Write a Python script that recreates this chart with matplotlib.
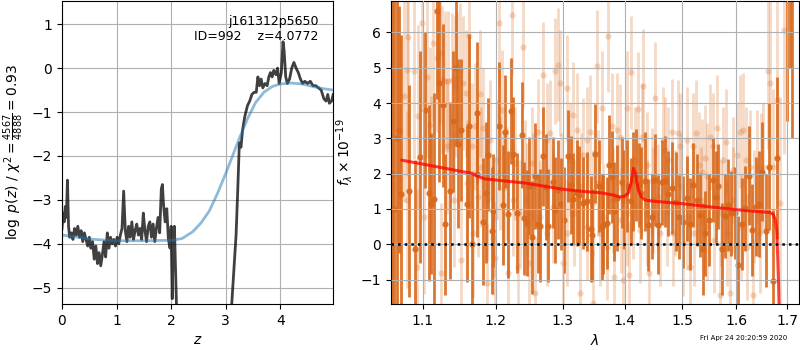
import numpy as np
import matplotlib
matplotlib.use('Agg')
import matplotlib.pyplot as plt

# left panel: redshift pdf
z_pdf = [0.00, 0.02, 0.04, 0.06, 0.08, 0.10, 0.12, 0.14, 0.17, 0.20, 0.23, 0.26, 0.29, 0.32,
         0.35, 0.38, 0.41, 0.44, 0.47, 0.50, 0.53, 0.56, 0.59, 0.62, 0.65, 0.68, 0.71, 0.74,
         0.77, 0.80, 0.83, 0.86, 0.89, 0.92, 0.95, 0.98, 1.01, 1.04, 1.07, 1.10, 1.13, 1.16,
         1.19, 1.22, 1.25, 1.28, 1.31, 1.34, 1.37, 1.40, 1.43, 1.46, 1.49, 1.52, 1.55, 1.58,
         1.61, 1.64, 1.67, 1.70, 1.73, 1.76, 1.79, 1.82, 1.84, 1.86, 1.89, 1.92, 1.95, 1.98,
         2.00, 2.02, 2.04, 2.06, 2.08, 2.10, 2.14, 3.05, 3.11, 3.15, 3.19, 3.22, 3.25, 3.28,
         3.31, 3.35, 3.40, 3.44, 3.48, 3.52, 3.56, 3.59, 3.62, 3.65, 3.68, 3.72, 3.76, 3.79,
         3.82, 3.85, 3.88, 3.92, 3.95, 3.98, 4.02, 4.05, 4.07, 4.10, 4.13, 4.17, 4.21, 4.25,
         4.29, 4.33, 4.37, 4.41, 4.45, 4.50, 4.55, 4.60, 4.65, 4.70, 4.75, 4.80, 4.84, 4.87,
         4.90, 4.94, 4.97]
logp = [-3.65, -3.30, -3.50, -3.15, -3.40, -2.55, -3.60, -3.85, -3.75, -3.90, -3.65, -3.80, -3.60, -3.85,
        -3.70, -3.95, -3.75, -3.90, -4.05, -3.85, -4.10, -3.95, -4.35, -4.05, -4.45, -4.20, -4.50, -4.25,
        -3.95, -4.30, -3.75, -4.10, -3.85, -4.00, -3.90, -4.05, -3.85, -4.00, -3.80, -3.65, -2.80, -3.70,
        -3.95, -3.60, -3.85, -3.50, -3.90, -3.70, -3.55, -3.80, -3.65, -3.90, -3.30, -3.70, -3.95, -3.60,
        -3.50, -3.85, -3.55, -3.95, -3.65, -3.40, -3.75, -2.75, -2.65, -3.10, -3.50, -3.20, -3.90, -4.10,
        -3.60, -5.25, -3.80, -3.60, -4.60, -5.50, -7.00, -7.50, -5.38, -4.60, -3.80, -2.80, -1.70, -1.80,
        -1.40, -1.10, -0.85, -0.75, -0.60, -0.55, -0.55, -0.20, -0.40, -0.25, -0.45, -0.35, -0.40, -0.20,
        -0.10, -0.20, -0.05, -0.15, 0.00, -0.35, -0.10, 0.60, 0.40, -0.20, -0.35, -0.25, 0.00, 0.13,
        0.00, -0.10, -0.25, -0.35, -0.30, -0.35, -0.30, -0.40, -0.40, -0.45, -0.50, -0.70, -0.75, -0.60,
        -0.80, -0.75, -0.60]

z_prior = [0.0, 0.3, 0.6, 1.0, 1.5, 2.0, 2.2, 2.4, 2.55, 2.7, 2.85, 3.0, 3.1, 3.25, 3.4, 3.55,
           3.7, 3.85, 4.0, 4.2, 4.4, 4.6, 4.8, 4.97]
logp_prior = [-3.80, -3.85, -3.90, -3.93, -3.93, -3.92, -3.88, -3.72, -3.52, -3.25, -2.85, -2.40,
              -2.08, -1.60, -1.15, -0.78, -0.55, -0.42, -0.36, -0.34, -0.36, -0.42, -0.47, -0.50]

# right panel: spectrum (binned, dark)
wave_dark = [1.0600, 1.0630, 1.0660, 1.0685, 1.0719, 1.0826, 1.0904, 1.0965, 1.1031, 1.1075,
             1.1106, 1.1154, 1.1185, 1.1221, 1.1262, 1.1302, 1.1365, 1.1410, 1.1447, 1.1478,
             1.1515, 1.1598, 1.1631, 1.1672, 1.1733, 1.1742, 1.1826, 1.1859, 1.1897, 1.1944,
             1.1959, 1.2054, 1.2102, 1.2136, 1.2184, 1.2218, 1.2258, 1.2306, 1.2380, 1.2420,
             1.2464, 1.2494, 1.2539, 1.2579, 1.2619, 1.2654, 1.2705, 1.2740, 1.2780, 1.2847,
             1.2883, 1.2934, 1.2970, 1.3022, 1.3089, 1.3126, 1.3168, 1.3220, 1.3257, 1.3326,
             1.3379, 1.3444, 1.3470, 1.3519, 1.3572, 1.3621, 1.3648, 1.3702, 1.3735, 1.3784,
             1.3823, 1.3867, 1.3950, 1.3989, 1.4034, 1.4101, 1.4146, 1.4191, 1.4236, 1.4270,
             1.4344, 1.4401, 1.4459, 1.4517, 1.4575, 1.4633, 1.4692, 1.4750, 1.4821, 1.4886,
             1.4945, 1.5017, 1.5077, 1.5137, 1.5198, 1.5270, 1.5319, 1.5368, 1.5411, 1.5491,
             1.5565, 1.5615, 1.5659, 1.5721, 1.5784, 1.5846, 1.5891, 1.5974, 1.6037, 1.6101,
             1.6166, 1.6249, 1.6295, 1.6379, 1.6445, 1.6490, 1.6569, 1.6642, 1.6709, 1.6789,
             1.6990, 1.7050, 1.7100]
flux_dark = [2.00, 1.00, 3.00, 3.24, 1.42, 1.50, -0.12, 2.48, 3.80, 1.45,
             1.15, 1.28, 6.60, 4.57, 3.93, 0.57, 1.52, 3.48, 4.99, 2.85,
             3.24, 1.14, 3.35, 0.00, 3.73, 2.00, 0.64, 1.46, 2.53, 0.39,
             0.95, 3.35, 1.11, 3.19, 0.85, 3.76, 2.56, 0.88, 3.10, 0.74,
             0.60, 1.65, 0.20, 1.92, 0.58, 0.53, 2.49, 1.63, 0.53, 1.75,
             0.97, 1.54, 1.14, 0.69, 2.49, 1.68, 1.29, 1.45, 1.39, 1.18,
             1.22, 0.43, 0.26, 2.56, 1.64, 0.50, 0.55, 0.61, 2.25, 1.90,
             0.93, 1.30, 1.75, 1.26, 1.64, 1.23, 1.78, 1.97, 1.68, 1.45,
             1.78, 0.55, 0.78, 1.82, 0.55, 1.75, 1.78, 1.43, 1.60, 1.21,
             0.77, 0.64, 1.30, 0.58, 1.68, 1.26, 0.83, -0.14, 0.31, 0.69,
             1.82, 1.35, 1.64, -0.14, 0.80, 1.12, 0.88, 0.88, -0.59, 0.58,
             1.02, 1.94, 0.41, 1.07, 1.14, 2.06, 0.39, 2.20, -1.04, 2.44,
             7.50, 8.50, 9.50]
err_dark = [9.0, 9.0, 8.0, 3.5, 4.5, 3.0, 2.5, 3.0, 2.2, 2.5,
            2.0, 3.0, 2.5, 2.8, 2.3, 2.0, 2.5, 2.0, 2.2, 2.4,
            2.0, 2.2, 2.6, 2.0, 2.0, 1.8, 1.8, 2.0, 1.6, 1.8,
            1.6, 1.8, 1.7, 1.6, 1.8, 1.5, 1.6, 1.7, 1.5, 1.6,
            1.5, 1.4, 1.6, 1.5, 1.4, 1.6, 1.4, 1.5, 1.6, 1.3,
            1.5, 1.4, 1.3, 1.5, 1.3, 1.4, 1.3, 1.5, 1.4, 1.3,
            1.4, 1.5, 1.3, 1.4, 1.3, 1.5, 1.4, 1.3, 1.4, 1.3,
            1.4, 1.5, 1.3, 1.4, 1.3, 1.2, 1.4, 1.3, 1.2, 1.3,
            1.4, 1.3, 1.2, 1.3, 1.4, 1.2, 1.3, 1.2, 1.3, 1.4,
            1.2, 1.3, 1.2, 1.3, 1.2, 1.3, 1.2, 1.3, 1.2, 1.3,
            1.2, 1.3, 1.2, 1.3, 1.2, 1.3, 1.2, 1.3, 1.4, 1.3,
            1.2, 1.4, 1.3, 1.4, 1.5, 1.4, 1.6, 1.8, 2.0, 2.3,
            4.0, 3.5, 6.5]

# right panel: spectrum (unbinned, light)
wave_light = [1.0749, 1.0792, 1.0800, 1.0813, 1.0887, 1.0921, 1.0943, 1.0987, 1.1009, 1.1053,
              1.1097, 1.1110, 1.1141, 1.1194, 1.1230, 1.1240, 1.1252, 1.1297, 1.1320, 1.1342,
              1.1388, 1.1420, 1.1433, 1.1456, 1.1501, 1.1510, 1.1547, 1.1584, 1.1593, 1.1631,
              1.1663, 1.1686, 1.1710, 1.1756, 1.1779, 1.1790, 1.1826, 1.1873, 1.1880, 1.1921,
              1.1968, 1.1975, 1.1992, 1.2016, 1.2054, 1.2064, 1.2088, 1.2122, 1.2160, 1.2184,
              1.2233, 1.2258, 1.2282, 1.2331, 1.2356, 1.2395, 1.2430, 1.2454, 1.2494, 1.2529,
              1.2554, 1.2579, 1.2629, 1.2654, 1.2705, 1.2755, 1.2765, 1.2806, 1.2857, 1.2883,
              1.2934, 1.2960, 1.2975, 1.3012, 1.3063, 1.3075, 1.3116, 1.3168, 1.3180, 1.3220,
              1.3273, 1.3285, 1.3326, 1.3379, 1.3390, 1.3433, 1.3476, 1.3487, 1.3540, 1.3567,
              1.3594, 1.3621, 1.3648, 1.3702, 1.3730, 1.3784, 1.3812, 1.3823, 1.3867, 1.3922,
              1.3935, 1.3978, 1.4034, 1.4045, 1.4079, 1.4107, 1.4146, 1.4174, 1.4230, 1.4259,
              1.4287, 1.4304, 1.4373, 1.4385, 1.4419, 1.4459, 1.4488, 1.4517, 1.4575, 1.4604,
              1.4650, 1.4692, 1.4721, 1.4750, 1.4810, 1.4839, 1.4868, 1.4928, 1.4957, 1.4970,
              1.5017, 1.5077, 1.5090, 1.5137, 1.5198, 1.5210, 1.5246, 1.5307, 1.5330, 1.5350,
              1.5411, 1.5442, 1.5455, 1.5503, 1.5565, 1.5578, 1.5627, 1.5690, 1.5700, 1.5752,
              1.5802, 1.5815, 1.5878, 1.5929, 1.5942, 1.6005, 1.6069, 1.6080, 1.6133, 1.6185,
              1.6198, 1.6262, 1.6327, 1.6340, 1.6392, 1.6458, 1.6471, 1.6523, 1.6622, 1.6655,
              1.6722, 1.6789, 1.6856, 1.6936]
flux_light = [4.19, 4.94, 1.26, 5.87, 4.92, -0.63, 3.62, 6.27, 0.78, 4.75,
              3.38, 2.20, 5.70, 5.27, 5.42, -0.82, 4.66, 4.61, 2.77, 4.61,
              4.66, 1.26, 4.47, 4.71, 4.94, -0.44, 4.57, 4.28, 1.73, 5.89,
              2.77, 0.31, 3.34, 1.35, 4.26, 2.20, 3.29, 1.26, -1.10, 2.96,
              0.17, 0.78, -0.40, 2.39, 6.27, 2.01, 3.81, 1.59, 1.73, -0.82,
              6.50, 1.26, 2.30, -0.63, 0.88, 5.58, 2.01, 1.26, -0.54, 2.30,
              1.64, -1.39, 3.19, 0.78, 4.80, 2.96, 0.31, 3.15, 1.07, 4.90,
              5.08, 4.57, 1.64, -0.52, 4.42, 0.31, 2.39, 3.67, 0.88, 3.24,
              -1.39, 1.64, 2.53, 2.96, 0.50, 3.19, -1.67, 1.16, 5.04, 1.73,
              0.31, 3.86, 0.78, -0.07, 5.91, 3.34, 1.26, -0.92, 3.24, 3.05,
              0.69, -1.01, 3.86, 0.88, -0.87, 4.87, 1.07, 2.39, 3.83, 0.41,
              3.05, 4.49, 2.25, 0.88, -0.82, 1.78, 1.26, 4.14, 1.35, 0.31,
              2.96, 2.67, 0.88, 2.39, 3.17, 0.31, 1.16, 3.15, 2.77, 1.64,
              0.03, 2.96, 0.78, -0.63, 2.77, 0.31, 3.15, 2.25, 1.26, 2.06,
              2.44, 1.92, 0.50, 3.05, 2.77, 0.12, 3.29, -1.44, 0.88, 2.39,
              2.91, 0.31, -1.39, 2.11, 1.26, 2.53, 3.19, 0.50, 3.24, 2.39,
              -0.07, 2.20, -1.44, 1.07, 2.20, 0.31, 2.01, 2.20, 4.90, 4.57,
              2.20, 4.09, 1.16, 6.06]
err_light = [3.0, 3.0, 2.5, 2.8, 2.5, 2.2, 2.6, 2.4, 2.2, 2.3,
             2.2, 2.0, 2.2, 2.1, 2.0, 2.0, 2.1, 2.0, 1.9, 2.0,
             1.9, 1.9, 2.0, 1.9, 1.9, 1.8, 1.9, 1.8, 1.8, 1.9,
             1.8, 1.8, 1.8, 1.7, 1.8, 1.7, 1.7, 1.7, 1.7, 1.7,
             1.6, 1.7, 1.6, 1.7, 1.8, 1.6, 1.7, 1.6, 1.6, 1.6,
             1.7, 1.6, 1.6, 1.6, 1.5, 1.7, 1.5, 1.6, 1.5, 1.6,
             1.5, 1.6, 1.5, 1.6, 1.5, 1.6, 1.5, 1.5, 1.6, 1.5,
             1.6, 1.5, 1.5, 1.6, 1.5, 1.5, 1.6, 1.5, 1.5, 1.6,
             1.5, 1.5, 1.6, 1.5, 1.5, 1.6, 1.5, 1.5, 1.6, 1.5,
             1.5, 1.6, 1.5, 1.5, 1.6, 1.5, 1.5, 1.5, 1.6, 1.5,
             1.5, 1.5, 1.6, 1.5, 1.5, 1.6, 1.5, 1.5, 1.6, 1.5,
             1.5, 1.6, 1.5, 1.5, 1.5, 1.5, 1.5, 1.6, 1.5, 1.5,
             1.5, 1.5, 1.5, 1.5, 1.5, 1.5, 1.5, 1.5, 1.5, 1.5,
             1.5, 1.5, 1.5, 1.5, 1.5, 1.5, 1.5, 1.5, 1.5, 1.5,
             1.5, 1.5, 1.5, 1.5, 1.5, 1.5, 1.5, 1.5, 1.5, 1.5,
             1.5, 1.5, 1.5, 1.5, 1.5, 1.5, 1.6, 1.5, 1.6, 1.5,
             1.5, 1.6, 1.6, 1.6, 1.6, 1.7, 1.7, 1.8, 2.2, 2.5,
             2.2, 2.8, 3.0, 3.5]

# best-fit model
wave_model = [1.073, 1.100, 1.130, 1.155, 1.165, 1.175, 1.185, 1.210, 1.245, 1.270, 1.300,
              1.330, 1.360, 1.380, 1.392, 1.400, 1.406, 1.411, 1.415, 1.419, 1.423, 1.428,
              1.435, 1.450, 1.500, 1.550, 1.600, 1.640, 1.665, 1.672, 1.676, 1.679, 1.681,
              1.683, 1.685]
flux_model = [2.38, 2.27, 2.15, 2.05, 2.02, 1.92, 1.85, 1.80, 1.73, 1.65, 1.56,
              1.50, 1.46, 1.40, 1.34, 1.36, 1.45, 1.75, 2.15, 1.95, 1.55, 1.35,
              1.25, 1.22, 1.15, 1.06, 0.98, 0.93, 0.90, 0.85, 0.70, 0.40, -0.30,
              -1.20, -2.50]

lam_ticks = [1.1, 1.2, 1.3, 1.4, 1.5, 1.6, 1.7]

col = '#d9681a'

fig = plt.figure(figsize=(8, 3.5), dpi=100)

ax = fig.add_axes([0.0775, 0.1314, 0.339, 0.866])
ax.plot(z_pdf, logp, color='k', alpha=0.75, lw=2)
ax.plot(z_prior, logp_prior, color='#1f77b4', alpha=0.5, lw=2)
ax.set_xlim(0, 4.97)
ax.set_ylim(-5.37, 1.53)
ax.set_xticks([0, 1, 2, 3, 4])
ax.set_yticks([-5, -4, -3, -2, -1, 0, 1])
ax.grid()
ax.set_xlabel('$z$')
ax.set_ylabel(r'$\log\ p(z)$ / $\chi^2=\frac{4567}{4888}=0.93$')
ax.text(0.945, 0.955, 'j161312p5650\nID=992    z=4.0772', transform=ax.transAxes,
        ha='right', va='top', fontsize=9)

ax2 = fig.add_axes([0.4888, 0.1314, 0.51, 0.866])
ax2.errorbar(wave_light, flux_light, yerr=err_light, marker='o', ms=4.5, linestyle='None',
             color=col, alpha=0.25, elinewidth=2, mew=0)
ax2.errorbar(wave_dark, flux_dark, yerr=err_dark, marker='o', ms=4.5, linestyle='None',
             color=col, alpha=0.9, elinewidth=2, mew=0)
ax2.plot(wave_model, flux_model, color='r', alpha=0.75, lw=2.2, zorder=5)
ax2.axhline(0, color='k', linestyle=':', lw=1.8, zorder=6)
ax2.set_xscale('log')
ax2.set_xlim(1.059, 1.7245)
ax2.set_ylim(-1.69, 6.89)
ax2.set_xticks(lam_ticks)
ax2.set_xticklabels([str(t) for t in lam_ticks])
ax2.xaxis.set_minor_locator(matplotlib.ticker.NullLocator())
ax2.set_yticks([-1, 0, 1, 2, 3, 4, 5, 6])
ax2.set_axisbelow(False)
ax2.grid()
ax2.set_xlabel(r'$\lambda$')
ax2.set_ylabel(r'$f_\lambda \times 10^{-19}$')

fig.text(0.93, 0.025, 'Fri Apr 24 20:20:59 2020', ha='center', va='bottom', fontsize=5)

fig.savefig('out.png')
